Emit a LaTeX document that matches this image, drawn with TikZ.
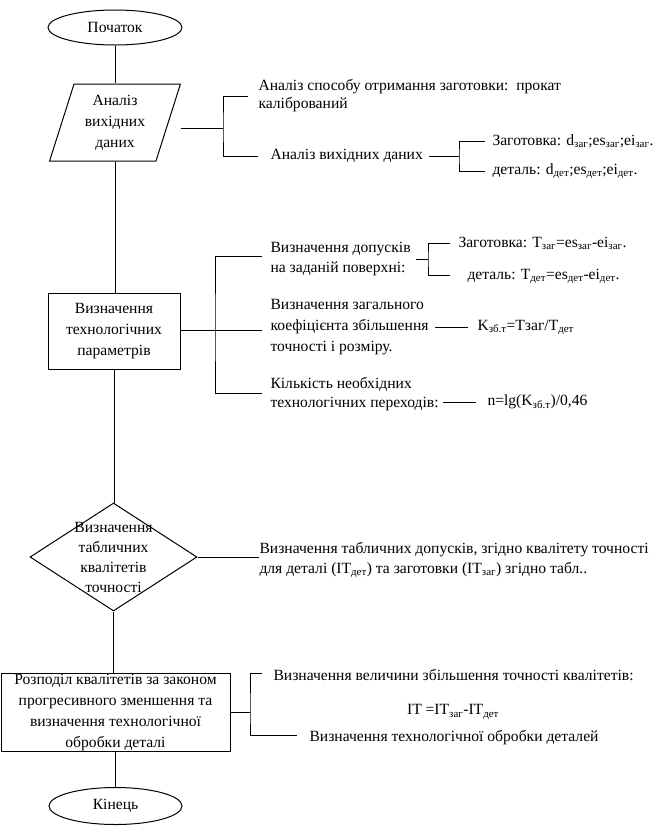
\documentclass[tikz,border=0pt]{standalone}
\usepackage{fontspec}
\setmainfont{Liberation Serif}
\usetikzlibrary{shapes.geometric}

\begin{document}
\begin{tikzpicture}[x=1pt,y=-1pt,line width=1pt,
  txt/.style={anchor=west,align=left,inner sep=0pt,font=\fontsize{15.6}{20}\selectfont},
  ctr/.style={align=center,inner sep=0pt,font=\fontsize{15.6}{21}\selectfont}]
\useasboundingbox (0,0) rectangle (659,836);
\node[draw,ellipse,minimum width=134,minimum height=35,ctr] (start) at (115,27.5) {Початок};
\node[draw,trapezium,trapezium left angle=72,trapezium right angle=108,
  trapezium stretches=true,minimum width=132,minimum height=77,ctr] (para) at (115,122.5)
  {Аналіз\\вихідних\\даних};
\node[draw,minimum width=132,minimum height=76,ctr] (par) at (114,331)
  {Визначення\\технологічних\\параметрів};
\node[draw,diamond,minimum width=167,minimum height=108,inner sep=0pt] (dia) at (113.5,557) {};
\node[ctr,font=\fontsize{15.6}{20}\selectfont] (diatxt) at (dia.center)
  {Визначення\\табличних\\квалітетів\\точності};
\node[draw,minimum width=229,minimum height=78,ctr] (distr) at (115.5,712)
  {Розподіл квалітетів за законом\\прогресивного зменшення та\\визначення технологічної\\обробки деталі};
\node[draw,ellipse,minimum width=133,minimum height=37,ctr] (stop) at (115.5,806) {Кінець};
\foreach \a/\b in {start/para,para/par,par/dia,dia/distr,distr/stop}
  \draw (\a.south) -- (\a.south |- \b.north);

\coordinate (j1) at (223,128);
\coordinate (e1a) at (248,96);
\coordinate (e1b) at (258,156);
\draw (para.top right corner |- j1) -- (j1);
\draw (e1a) -| (j1) |- (e1b);
\node[txt,font=\fontsize{15.6}{18}\selectfont] (t1) at (258,96)
  {Аналіз способу отримання заготовки:~~прокат\\калібрований};
\node[txt] (t2) at (270,156) {Аналіз вихідних даних};
\coordinate (j2) at (459,156);
\coordinate (e2a) at (485,141);
\coordinate (e2b) at (485,171);
\draw[shorten <=6] (t2.east) -- (j2);
\draw (e2a) -| (j2) |- (e2b);
\node[txt] (t3) at (492,141) {Заготовка: d\textsubscript{заг};es\textsubscript{заг};ei\textsubscript{заг}.};
\node[txt] (t4) at (492,171) {деталь: d\textsubscript{дет};es\textsubscript{дет};ei\textsubscript{дет}.};

\coordinate (j3) at (215,330);
\coordinate (e3a) at (262,256);
\coordinate (e3b) at (262,330);
\coordinate (e3c) at (262,393);
\draw (par.east |- j3) -- (e3b);
\draw (e3a) -| (j3) |- (e3c);
\node[txt] (t5) at (270,259) {Визначення допусків\\на заданій поверхні:};
\coordinate (j4) at (428,259);
\coordinate (e4a) at (450,243);
\coordinate (e4b) at (450,275);
\draw[shorten <=5] (t5.east) -- (j4);
\draw (e4a) -| (j4) |- (e4b);
\node[txt] (t6) at (458,243) {Заготовка: T\textsubscript{заг}=es\textsubscript{заг}-ei\textsubscript{заг}.};
\node[txt] (t7) at (467,276) {деталь: T\textsubscript{дет}=es\textsubscript{дет}-ei\textsubscript{дет}.};
\node[txt,font=\fontsize{15.6}{21}\selectfont] (t8) at (270,327)
  {Визначення загального\\коефіцієнта збільшення\\точності і розміру.};
\node[txt] (t9) at (477,327) {K\textsubscript{зб.т}=Тзаг/T\textsubscript{дет}};
\draw[shorten <=6,shorten >=9] (t8.east) -- (t9.west);
\node[txt,font=\fontsize{15.6}{19}\selectfont] (t10) at (270,394)
  {Кількість необхідних\\технологічних переходів:};
\node[txt] (t11) at (487,402) {n=lg(K\textsubscript{зб.т})/0,46};
\draw[shorten <=4,shorten >=11] (t10.east |- t11.west) -- (t11.west);

\node[txt] (t12) at (259,560)
  {Визначення табличних допусків, згідно квалітету точності\\для деталі (IT\textsubscript{дет}) та заготовки (IT\textsubscript{заг}) згідно табл..};
\draw (dia.east) -- (dia.east -| t12.west);

\coordinate (j5) at (250,712);
\coordinate (e5a) at (262,673);
\coordinate (e5b) at (297,735);
\draw (distr.east) -- (j5);
\draw (e5a) -| (j5) |- (e5b);
\node[txt] (t13) at (273,675) {Визначення величини збільшення точності квалітетів:};
\node[ctr] (t14) at (453,712) {IT =IT\textsubscript{заг}-IT\textsubscript{дет}};
\node[txt] (t15) at (309,738) {Визначення технологічної обробки деталей};
\end{tikzpicture}
\end{document}
